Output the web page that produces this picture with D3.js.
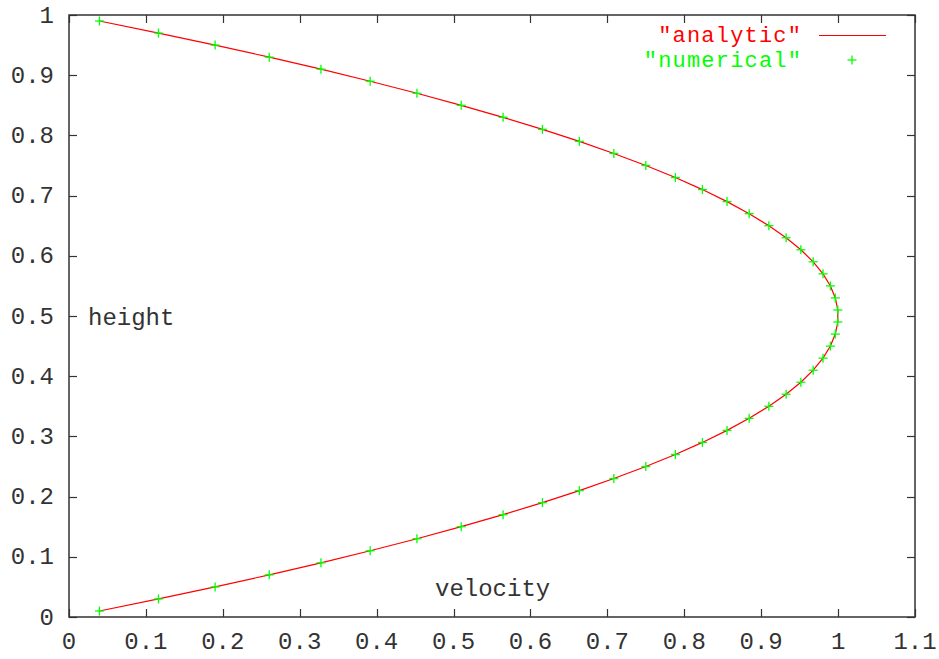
<!DOCTYPE html>
<html>
<head>
<meta charset="utf-8">
<script src="https://cdn.jsdelivr.net/npm/d3@7"></script>
<style>
  html, body { margin: 0; padding: 0; background: #fff; }
  svg { display: block; }
  text { font-family: "Liberation Mono", "Courier New", monospace; }
</style>
</head>
<body>
<svg id="chart" width="939" height="659"></svg>
<script>
// Heights across the channel where the profile is sampled
const heights = [0.01, 0.03, 0.05, 0.07, 0.09, 0.11, 0.13, 0.15, 0.17, 0.19,
  0.21, 0.23, 0.25, 0.27, 0.29, 0.31, 0.33, 0.35, 0.37, 0.39,
  0.41, 0.43, 0.45, 0.47, 0.49, 0.51, 0.53, 0.55, 0.57, 0.59,
  0.61, 0.63, 0.65, 0.67, 0.69, 0.71, 0.73, 0.75, 0.77, 0.79,
  0.81, 0.83, 0.85, 0.87, 0.89, 0.91, 0.93, 0.95, 0.97, 0.99];

// Analytic velocity at each height
const analyticVelocity = [0.0396, 0.1164, 0.19, 0.2604, 0.3276, 0.3916, 0.4524, 0.51, 0.5644, 0.6156,
  0.6636, 0.7084, 0.75, 0.7884, 0.8236, 0.8556, 0.8844, 0.91, 0.9324, 0.9516,
  0.9676, 0.9804, 0.99, 0.9964, 0.9996, 0.9996, 0.9964, 0.99, 0.9804, 0.9676,
  0.9516, 0.9324, 0.91, 0.8844, 0.8556, 0.8236, 0.7884, 0.75, 0.7084, 0.6636,
  0.6156, 0.5644, 0.51, 0.4524, 0.3916, 0.3276, 0.2604, 0.19, 0.1164, 0.0396];

// Numerical velocity at each height
const numericalVelocity = [0.0396, 0.1164, 0.19, 0.2604, 0.3276, 0.3916, 0.4524, 0.51, 0.5644, 0.6156,
  0.6636, 0.7084, 0.75, 0.7884, 0.8236, 0.8556, 0.8844, 0.91, 0.9324, 0.9516,
  0.9676, 0.9804, 0.99, 0.9964, 0.9996, 0.9996, 0.9964, 0.99, 0.9804, 0.9676,
  0.9516, 0.9324, 0.91, 0.8844, 0.8556, 0.8236, 0.7884, 0.75, 0.7084, 0.6636,
  0.6156, 0.5644, 0.51, 0.4524, 0.3916, 0.3276, 0.2604, 0.19, 0.1164, 0.0396];

const xTicks = [0, 0.1, 0.2, 0.3, 0.4, 0.5, 0.6, 0.7, 0.8, 0.9, 1, 1.1];
const yTicks = [0, 0.1, 0.2, 0.3, 0.4, 0.5, 0.6, 0.7, 0.8, 0.9, 1];
const legendNames = ['"analytic"', '"numerical"'];

const svg = d3.select("#chart");
const plotLeft = 69, plotRight = 915, plotTop = 15, plotBottom = 617;

const x = d3.scaleLinear().domain([0, 1.1]).range([plotLeft, plotRight]);
const y = d3.scaleLinear().domain([0, 1]).range([plotBottom, plotTop]);

const axisColor = "#333";
const fontSize = 24;
const tickLen = 8;

// Ticks on all four sides, pointing inward
const axes = svg.append("g").attr("stroke", axisColor).attr("stroke-width", 1.2);
xTicks.forEach(t => {
  const px = Math.round(x(t)) + 0.5;
  axes.append("line").attr("x1", px).attr("x2", px).attr("y1", plotBottom).attr("y2", plotBottom - tickLen);
  axes.append("line").attr("x1", px).attr("x2", px).attr("y1", plotTop).attr("y2", plotTop + tickLen);
});
yTicks.forEach(t => {
  const py = Math.round(y(t)) + 0.5;
  axes.append("line").attr("x1", plotLeft).attr("x2", plotLeft + tickLen).attr("y1", py).attr("y2", py);
  axes.append("line").attr("x1", plotRight).attr("x2", plotRight - tickLen).attr("y1", py).attr("y2", py);
});

// Tick labels
svg.append("g").selectAll("text").data(xTicks).join("text")
  .attr("x", d => x(d)).attr("y", 642)
  .attr("text-anchor", "middle").attr("dominant-baseline", "central")
  .attr("font-size", fontSize).attr("fill", "#333")
  .text(d => d3.format("~g")(d));
svg.append("g").selectAll("text").data(yTicks).join("text")
  .attr("x", 54).attr("y", d => y(d) + 1)
  .attr("text-anchor", "end").attr("dominant-baseline", "central")
  .attr("font-size", fontSize).attr("fill", "#333")
  .text(d => d3.format("~g")(d));

// Axis titles inside the plot
svg.append("text").attr("x", 88).attr("y", 318).attr("dominant-baseline", "central")
  .attr("font-size", fontSize).attr("fill", "#333").text("height");
svg.append("text").attr("x", 435).attr("y", 589).attr("dominant-baseline", "central")
  .attr("font-size", fontSize).attr("fill", "#333").text("velocity");

// Analytic profile
const line = d3.line().x(d => x(d[0])).y(d => y(d[1]));
svg.append("path")
  .datum(analyticVelocity.map((v, i) => [v, heights[i]]))
  .attr("d", line).attr("fill", "none").attr("stroke", "#ff0000").attr("stroke-width", 1.2);

// Numerical samples as plus markers
const plus = (g, cx, cy, r) => {
  g.append("line").attr("x1", cx - r).attr("x2", cx + r).attr("y1", cy).attr("y2", cy);
  g.append("line").attr("x1", cx).attr("x2", cx).attr("y1", cy - r).attr("y2", cy + r);
};
const marks = svg.append("g").attr("stroke", "#00ff00").attr("stroke-width", 1.3);
numericalVelocity.forEach((v, i) => plus(marks, x(v), y(heights[i]), 4.5));

// Border
svg.append("rect").attr("x", plotLeft).attr("y", plotTop)
  .attr("width", plotRight - plotLeft).attr("height", plotBottom - plotTop)
  .attr("fill", "none").attr("stroke", axisColor).attr("stroke-width", 1.5);

// Legend (slightly smaller glyphs, same character pitch)
const legendFont = 22, legendSpacing = 1.2;
const legend = svg.append("g");
legend.append("text").attr("x", 801 + legendSpacing).attr("y", 36).attr("text-anchor", "end")
  .attr("dominant-baseline", "central").attr("letter-spacing", legendSpacing)
  .attr("font-size", legendFont).attr("fill", "#ff0000").text(legendNames[0]);
legend.append("line").attr("x1", 819).attr("x2", 886).attr("y1", 35.5).attr("y2", 35.5)
  .attr("stroke", "#ff0000").attr("stroke-width", 1.2);
legend.append("text").attr("x", 801 + legendSpacing).attr("y", 61).attr("text-anchor", "end")
  .attr("dominant-baseline", "central").attr("letter-spacing", legendSpacing)
  .attr("font-size", legendFont).attr("fill", "#00ff00").text(legendNames[1]);
plus(legend.append("g").attr("stroke", "#00ff00").attr("stroke-width", 1.3), 852, 60, 4.5);
</script>
</body>
</html>
